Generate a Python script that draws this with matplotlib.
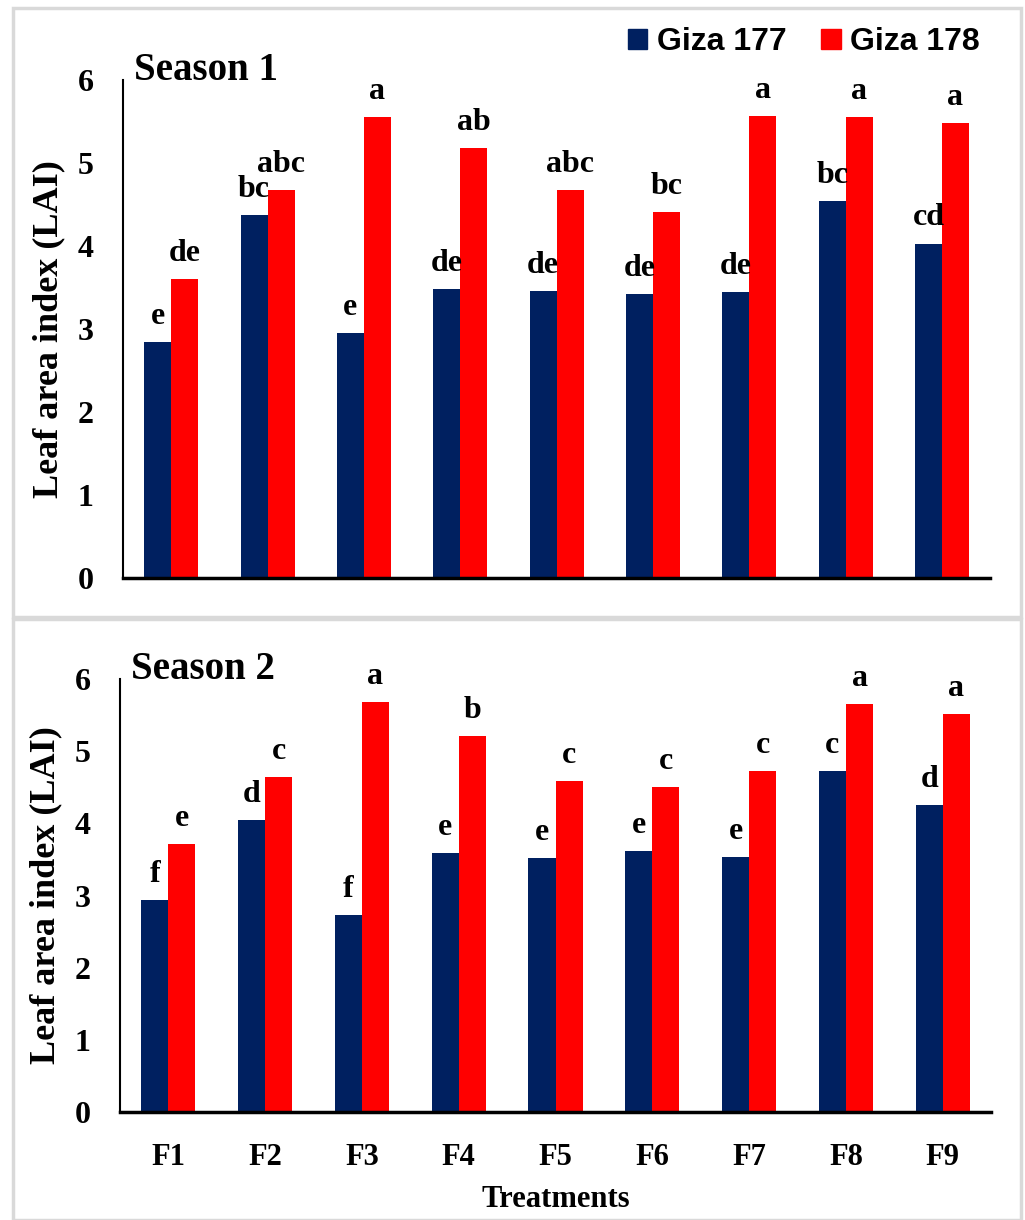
import matplotlib.pyplot as plt
import matplotlib.patches as mpatches
import numpy as np

treatments = ['F1', 'F2', 'F3', 'F4', 'F5', 'F6', 'F7', 'F8', 'F9']
cultivars = ['Giza 177', 'Giza 178']

# season 1 leaf area index
s1_g177 = [2.84, 4.37, 2.95, 3.48, 3.46, 3.42, 3.45, 4.54, 4.03]
s1_g178 = [3.60, 4.67, 5.55, 5.18, 4.67, 4.41, 5.57, 5.55, 5.48]
s1_let177 = ['e', 'bc', 'e', 'de', 'de', 'de', 'de', 'bc', 'cd']
s1_let178 = ['de', 'abc', 'a', 'ab', 'abc', 'bc', 'a', 'a', 'a']

# season 2 leaf area index
s2_g177 = [2.94, 4.05, 2.73, 3.59, 3.52, 3.62, 3.54, 4.72, 4.25]
s2_g178 = [3.71, 4.64, 5.68, 5.21, 4.59, 4.51, 4.72, 5.65, 5.52]
s2_let177 = ['f', 'd', 'f', 'e', 'e', 'e', 'e', 'c', 'd']
s2_let178 = ['e', 'c', 'a', 'b', 'c', 'c', 'c', 'a', 'a']

blue = '#002060'
red = '#FF0000'
serif = 'Liberation Serif'

fig = plt.figure(figsize=(10.25, 12.2), dpi=100)

# light grey frames around each panel
for (y0, h) in [(603 / 1220, 609 / 1220), (0.0, 601 / 1220)]:
    fig.patches.append(mpatches.Rectangle((13 / 1025, y0), 1008 / 1025, h,
                                          transform=fig.transFigure, fill=False,
                                          edgecolor='#d9d9d9', linewidth=2.5))

ax1 = fig.add_axes([0.12, 0.5262, 0.846, 0.4082])
ax2 = fig.add_axes([0.117, 0.0885, 0.850, 0.3549])

x = np.arange(len(treatments))
w = 0.28


def draw(ax, v177, v178, l177, l178, title, show_x):
    b1 = ax.bar(x - w / 2, v177, w, color=blue, label=cultivars[0])
    b2 = ax.bar(x + w / 2, v178, w, color=red, label=cultivars[1])
    for bars, labs in [(b1, l177), (b2, l178)]:
        for b, t in zip(bars, labs):
            ax.annotate(t, (b.get_x() + b.get_width() / 2, b.get_height()),
                        xytext=(0, 13), textcoords='offset points',
                        ha='center', va='baseline', fontsize=23,
                        fontweight='bold', family=serif)
    ax.set_xlim(-0.5, 8.5)
    ax.set_ylim(0, 6)
    ax.set_yticks(range(7))
    ax.tick_params(length=0)
    ax.tick_params(axis='y', pad=21)
    ax.tick_params(axis='x', pad=22)
    for lab in ax.get_yticklabels():
        lab.set_fontsize(23)
        lab.set_fontweight('bold')
        lab.set_family(serif)
    if show_x:
        ax.set_xticks(x)
        ax.set_xticklabels(treatments, fontsize=22, fontweight='bold', family=serif)
        ax.set_xlabel('Treatments', fontsize=22, fontweight='bold', family=serif, labelpad=10)
    else:
        ax.set_xticks([])
    ax.set_ylabel('Leaf area index (LAI)', fontsize=26, fontweight='bold', family=serif,
                  labelpad=9)
    ax.spines['top'].set_visible(False)
    ax.spines['right'].set_visible(False)
    ax.spines['left'].set_linewidth(1.5)
    ax.spines['bottom'].set_linewidth(2.5)
    ax.text(0.013, 1.0, title, transform=ax.transAxes, fontsize=28,
            fontweight='bold', family=serif, va='baseline')


draw(ax1, s1_g177, s1_g178, s1_let177, s1_let178, 'Season 1', False)
draw(ax2, s2_g177, s2_g178, s2_let177, s2_let178, 'Season 2', True)

fig.legend(handles=[mpatches.Patch(color=blue, label=cultivars[0]),
                    mpatches.Patch(color=red, label=cultivars[1])],
           loc='center right', bbox_to_anchor=(0.984, 0.9655), ncol=2,
           frameon=False, handlelength=0.6, handleheight=0.6, handletextpad=0.3,
           columnspacing=1.1,
           prop={'family': 'Liberation Sans', 'weight': 'bold', 'size': 23})

fig.savefig('out.png', dpi=100)
